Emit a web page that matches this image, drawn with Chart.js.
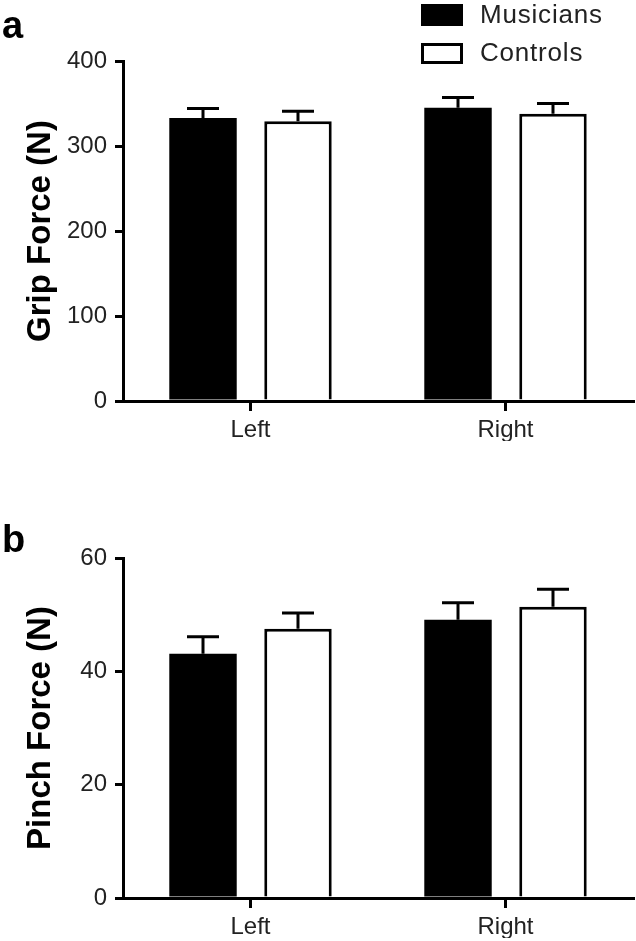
<!DOCTYPE html>
<html>
<head>
<meta charset="utf-8">
<script src="https://cdn.jsdelivr.net/npm/chart.js@4.4.1/dist/chart.umd.min.js"></script>
<style>
  body { margin: 0; background: #fff; }
  #wrap { position: relative; width: 636px; height: 941px; font-family: 'Liberation Sans', Arial, sans-serif; }
  canvas { position: absolute; left: 0; }
  .panel { position: absolute; left: 2px; font-weight: bold; font-size: 38px; line-height: 38px; color: #000; }
  .box { position: absolute; left: 421px; width: 42px; box-sizing: border-box; }
  .lbl { position: absolute; left: 480px; font-size: 26px; line-height: 26px; letter-spacing: 0.8px; color: #222; }
</style>
</head>
<body>
<div id="wrap">
  <canvas id="grip" width="636" height="470" style="top:0"></canvas>
  <canvas id="pinch" width="636" height="471" style="top:470px"></canvas>
  <div class="panel" style="top:6px">a</div>
  <div class="panel" style="top:520px">b</div>
  <div class="box" style="top:4px;height:22px;background:#000"></div>
  <div class="lbl" style="top:1px">Musicians</div>
  <div class="box" style="top:43px;height:21px;border:3px solid #000;background:#fff"></div>
  <div class="lbl" style="top:39px">Controls</div>
</div>
<script>
  // hand side, then mean and SEM per group
  const sides = ['Left', 'Right'];
  const gripMusicians = [333, 345];
  const gripMusiciansErr = [11, 12];
  const gripControls = [329, 338];
  const gripControlsErr = [12, 12];
  const pinchMusicians = [43.1, 49.1];
  const pinchMusiciansErr = [3.0, 3.0];
  const pinchControls = [47.5, 51.4];
  const pinchControlsErr = [2.8, 3.1];

  // draw the upper SEM whisker on each bar
  const errorBars = {
    id: 'errorBars',
    afterDatasetsDraw(chart) {
      const ctx = chart.ctx;
      const y = chart.scales.y;
      chart.data.datasets.forEach((ds, i) => {
        chart.getDatasetMeta(i).data.forEach((bar, j) => {
          const top = y.getPixelForValue(ds.data[j] + ds.errors[j]);
          ctx.save();
          ctx.strokeStyle = '#000';
          ctx.lineWidth = 3;
          ctx.beginPath();
          ctx.moveTo(bar.x, bar.y);
          ctx.lineTo(bar.x, top);
          ctx.moveTo(bar.x - 16, top);
          ctx.lineTo(bar.x + 16, top);
          ctx.stroke();
          ctx.restore();
        });
      });
    }
  };

  function makeChart(id, title, yMax, step, mus, musErr, con, conErr, padTop, padBottom) {
    return new Chart(document.getElementById(id), {
      type: 'bar',
      data: {
        labels: sides,
        datasets: [{
          label: 'Musicians', data: mus, errors: musErr,
          backgroundColor: '#000', borderWidth: 0
        }, {
          label: 'Controls', data: con, errors: conErr,
          backgroundColor: '#fff', borderColor: '#000', borderWidth: 3
        }]
      },
      options: {
        responsive: false,
        animation: false,
        devicePixelRatio: 1,
        barPercentage: 0.71,
        categoryPercentage: 0.745,
        layout: { padding: { top: padTop, bottom: padBottom, left: 0, right: 3 } },
        plugins: { legend: { display: false }, tooltip: { enabled: false } },
        scales: {
          x: {
            grid: { offset: false, drawOnChartArea: false, tickLength: 10, lineWidth: 3, color: '#000' },
            border: { color: '#000', width: 3 },
            ticks: { color: '#222', padding: 5, font: { family: 'Liberation Sans', size: 24 } },
            afterFit: s => { s.height = 40; }
          },
          y: {
            min: 0, max: yMax,
            grid: { drawOnChartArea: false, tickLength: 8, lineWidth: 3, color: '#000' },
            border: { color: '#000', width: 3 },
            ticks: { stepSize: step, color: '#222', padding: 8, font: { family: 'Liberation Sans', size: 24 } },
            title: {
              display: true, text: title, color: '#000',
              padding: { top: 21, bottom: 0 },
              font: { family: 'Liberation Sans', size: 33, weight: 'bold' }
            },
            afterFit: s => { s.width = 123; }
          }
        }
      },
      plugins: [errorBars]
    });
  }

  makeChart('grip', 'Grip Force (N)', 400, 100, gripMusicians, gripMusiciansErr, gripControls, gripControlsErr, 61, 29);
  makeChart('pinch', 'Pinch Force (N)', 60, 20, pinchMusicians, pinchMusiciansErr, pinchControls, pinchControlsErr, 88, 3);
</script>
</body>
</html>
